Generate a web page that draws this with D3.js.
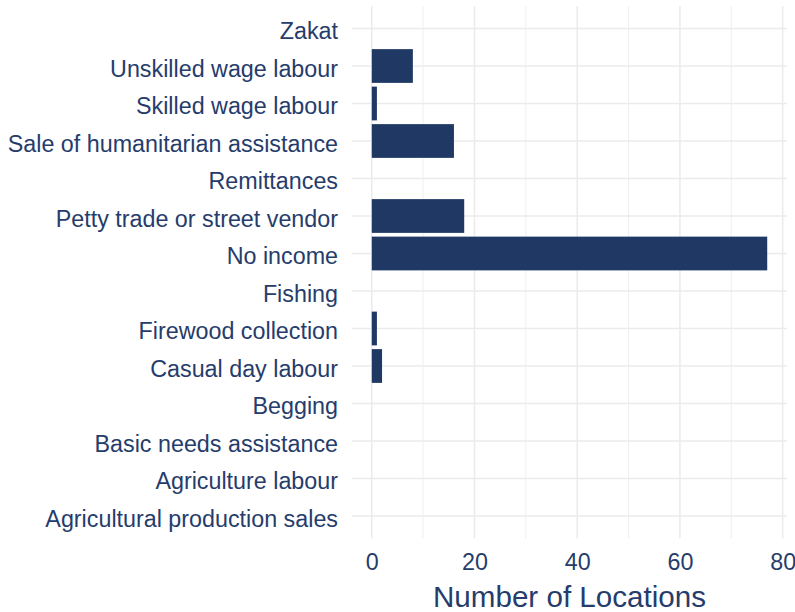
<!DOCTYPE html>
<html>
<head>
<meta charset="utf-8">
<script src="https://cdn.jsdelivr.net/npm/d3@7"></script>
<style>
  body { margin: 0; background: #fff; }
  svg { display: block; }
</style>
</head>
<body>
<svg id="chart" width="795" height="612"></svg>
<script>
const categories = [
  "Zakat",
  "Unskilled wage labour",
  "Skilled wage labour",
  "Sale of humanitarian assistance",
  "Remittances",
  "Petty trade or street vendor",
  "No income",
  "Fishing",
  "Firewood collection",
  "Casual day labour",
  "Begging",
  "Basic needs assistance",
  "Agriculture labour",
  "Agricultural production sales"
];
const values = [0, 8, 1, 16, 0, 18, 77, 0, 1, 2, 0, 0, 0, 0];
const xTicks = [0, 20, 40, 60, 80];
const xMinorTicks = [10, 30, 50, 70];
const xTitle = "Number of Locations";

const barColor = "#203864";
const textColor = "#263c6b";
const gridColor = "#ebebeb";
const font = "'Liberation Sans', Arial, sans-serif";

const svg = d3.select("#chart");
const panel = { left: 352, right: 787, top: 6, bottom: 538.5 };

const maxV = d3.max(values);
const pad = maxV * 0.05;
const x = d3.scaleLinear().domain([-pad, maxV + pad]).range([panel.left, panel.right]);

const step = (panel.bottom - panel.top) / (categories.length - 1 + 1.2);
const yc = d3.scalePoint().domain(categories)
  .range([panel.top + 0.6 * step, panel.bottom - 0.6 * step]);
const barH = 0.9 * step;

// grid
const g = svg.append("g");
g.selectAll("line.minor").data(xMinorTicks).join("line")
  .attr("x1", d => x(d)).attr("x2", d => x(d))
  .attr("y1", panel.top).attr("y2", panel.bottom)
  .attr("stroke", gridColor).attr("stroke-width", 0.8);
g.selectAll("line.major").data(xTicks).join("line")
  .attr("x1", d => x(d)).attr("x2", d => x(d))
  .attr("y1", panel.top).attr("y2", panel.bottom)
  .attr("stroke", gridColor).attr("stroke-width", 1.5);
g.selectAll("line.hmajor").data(categories).join("line")
  .attr("x1", panel.left).attr("x2", panel.right)
  .attr("y1", d => yc(d)).attr("y2", d => yc(d))
  .attr("stroke", gridColor).attr("stroke-width", 1.5);

// bars
svg.append("g").selectAll("rect").data(categories.map((c, i) => ({ c, v: values[i] })))
  .join("rect")
  .attr("x", x(0))
  .attr("y", d => yc(d.c) - barH / 2)
  .attr("width", d => x(d.v) - x(0))
  .attr("height", barH)
  .attr("fill", barColor);

// y axis labels
const yAxis = d3.axisLeft(yc).tickSize(0).tickPadding(14);
const ya = svg.append("g").attr("transform", `translate(${panel.left},0)`).call(yAxis);
ya.select(".domain").remove();
ya.selectAll("text")
  .attr("fill", textColor)
  .attr("font-family", font)
  .attr("font-size", "23.3px")
  .attr("dy", "0.43em");

// x axis labels
const xAxis = d3.axisBottom(x).tickValues(xTicks).tickSize(0).tickPadding(0);
const xa = svg.append("g").attr("transform", `translate(0,${panel.bottom})`).call(xAxis);
xa.select(".domain").remove();
xa.selectAll("text")
  .attr("fill", textColor)
  .attr("font-family", font)
  .attr("font-size", "23.3px")
  .attr("dy", null)
  .attr("y", 31.5);

// x title
svg.append("text")
  .attr("x", (panel.left + panel.right) / 2)
  .attr("y", 607)
  .attr("text-anchor", "middle")
  .attr("fill", textColor)
  .attr("font-family", font)
  .attr("font-size", "29.6px")
  .text(xTitle);
</script>
</body>
</html>
